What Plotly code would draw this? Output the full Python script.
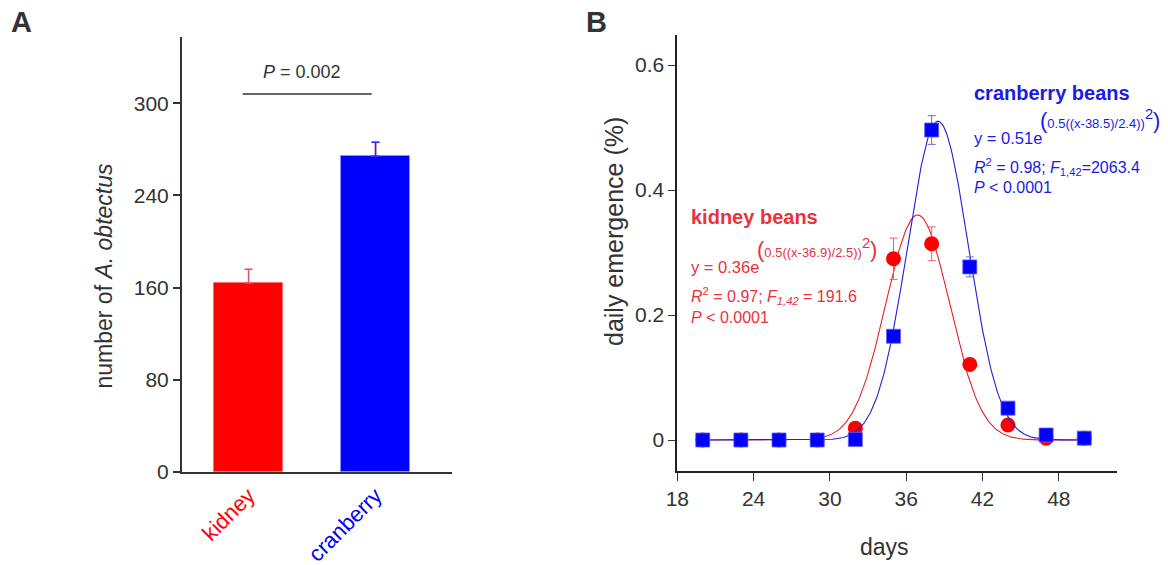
import numpy as np
import plotly.graph_objects as go

# ---------------- data ----------------
# Panel A: adult counts per host bean
bean_types = ["kidney", "cranberry"]
adult_counts = [164, 274]
adult_sem = [12, 12]
count_tick_vals = [0, 80, 160, 240, 320]
count_tick_text = ["0", "80", "160", "240", "300"]
p_value_text = "<i>P</i> = 0.002"
p_bar_level = 328

# Panel B: daily emergence
days = [20, 23, 26, 29, 32, 35, 38, 41, 44, 47, 50]
kidney_emergence = [0.0, 0.0, 0.0, 0.0, 0.019, 0.290, 0.314, 0.121, 0.024, 0.003, 0.003]
kidney_err = [0, 0, 0, 0, 0, 0.033, 0.027, 0, 0, 0, 0]
cranberry_emergence = [0.0, 0.0, 0.0, 0.0, 0.001, 0.166, 0.496, 0.277, 0.051, 0.008, 0.003]
cranberry_err = [0, 0, 0, 0, 0, 0, 0.023, 0.016, 0, 0, 0]

# Gaussian fit parameters (amplitude, centre, width)
kidney_fit = (0.36, 36.9, 2.5)
cranberry_fit = (0.51, 38.5, 2.4)
emergence_tick_vals = [0, 0.2, 0.4, 0.6]
emergence_tick_text = ["0", "0.2", "0.4", "0.6"]
day_tick_vals = [18, 24, 30, 36, 42, 48]

# ---------------- styling ----------------
W, H = 1168, 565
FONT = "Liberation Sans, Arial, sans-serif"
AX = "#333333"
RED = "#ff0000"
BLUE = "#0000ff"
RED_TXT = "#e8323c"
BLUE_TXT = "#1a1ae6"


def px(x):
    return x / W


def py(y):
    return 1 - y / H


fig = go.Figure()

# ---------- Panel A: bars ----------
fig.add_trace(go.Bar(
    x=[0, 1], y=adult_counts, width=0.55,
    marker=dict(color=[RED, BLUE], line=dict(color=["#ff7070", "#8f8fff"], width=1)),
    error_y=dict(type="data", array=adult_sem, arrayminus=[0, 0], symmetric=False,
                 color="#e8505a", thickness=1.5, width=4),
    xaxis="x", yaxis="y", showlegend=False,
))
# separate error colour for the blue bar
fig.add_trace(go.Scatter(
    x=[1], y=[adult_counts[1]], mode="markers", marker=dict(size=0.1, color=BLUE, opacity=0),
    error_y=dict(type="data", array=[adult_sem[1]], arrayminus=[0], symmetric=False,
                 color="#2a2aff", thickness=1.5, width=4),
    xaxis="x", yaxis="y", showlegend=False, hoverinfo="skip",
))
# significance bar
fig.add_trace(go.Scatter(
    x=[-0.046, 0.97], y=[p_bar_level, p_bar_level], mode="lines",
    line=dict(color=AX, width=1.5), xaxis="x", yaxis="y", showlegend=False,
))

# ---------- Panel B: fits and points ----------
xfit = np.linspace(days[0], days[-1], 400)


def gauss(x, p):
    a, mu, s = p
    return a * np.exp(-0.5 * ((x - mu) / s) ** 2)


fig.add_trace(go.Scatter(
    x=xfit, y=gauss(xfit, kidney_fit), mode="lines",
    line=dict(color="#e8202a", width=1.1), xaxis="x2", yaxis="y2", showlegend=False,
))
fig.add_trace(go.Scatter(
    x=days, y=kidney_emergence, mode="markers",
    marker=dict(symbol="circle", size=15, color=RED, line=dict(width=0)),
    error_y=dict(type="data", array=kidney_err, color="#e86068", thickness=1, width=4),
    xaxis="x2", yaxis="y2", showlegend=False,
))
fig.add_trace(go.Scatter(
    x=xfit, y=gauss(xfit, cranberry_fit), mode="lines",
    line=dict(color="#2020d8", width=1.1), xaxis="x2", yaxis="y2", showlegend=False,
))
fig.add_trace(go.Scatter(
    x=days, y=cranberry_emergence, mode="markers",
    marker=dict(symbol="square", size=14, color=BLUE, line=dict(color="#6060ff", width=0.8)),
    error_y=dict(type="data", array=cranberry_err, color="#6a6af0", thickness=1, width=4),
    xaxis="x2", yaxis="y2", showlegend=False,
))

tickfont = dict(family=FONT, size=21, color=AX)

fig.update_layout(
    width=W, height=H,
    margin=dict(l=0, r=0, t=0, b=0, pad=0),
    paper_bgcolor="white", plot_bgcolor="white",
    font=dict(family=FONT, color=AX),
    bargap=0,
    xaxis=dict(
        domain=[px(182), px(452)], range=[-0.524, 1.602],
        tickvals=[0, 1], ticktext=[f"<span style='color:{RED}'>{bean_types[0]}</span>",
                                   f"<span style='color:{BLUE}'>{bean_types[1]}</span>"],
        tickangle=-45, ticks="", tickfont=dict(family=FONT, size=22),
        showline=True, linecolor=AX, linewidth=2, showgrid=False, zeroline=False,
        anchor="y", automargin=False,
    ),
    yaxis=dict(
        domain=[py(472), py(37)], range=[0, 377.4],
        tickvals=count_tick_vals, ticktext=count_tick_text,
        ticks="outside", ticklen=7, tickwidth=2, tickcolor=AX, tickfont=tickfont,
        showline=True, linecolor=AX, linewidth=2, showgrid=False, zeroline=False,
        anchor="x", automargin=False,
    ),
    xaxis2=dict(
        domain=[px(677.3), px(1116.7)], range=[18, 52.55],
        tickvals=day_tick_vals, ticks="outside", ticklen=8, tickwidth=1.2, tickcolor=AX,
        tickfont=tickfont, showline=True, linecolor="#222222", linewidth=1.8,
        showgrid=False, zeroline=False, anchor="y2", automargin=False,
    ),
    yaxis2=dict(
        domain=[py(470.7), py(35)], range=[-0.0491, 0.648],
        tickvals=emergence_tick_vals, ticktext=emergence_tick_text,
        ticks="outside", ticklen=7, tickwidth=1.2, tickcolor=AX, tickfont=tickfont,
        showline=True, linecolor="#222222", linewidth=1.8,
        showgrid=False, zeroline=False, anchor="x2", automargin=False,
    ),
)


def note(text, x, y, size, color=AX, xanchor="left", angle=0, yanchor="middle"):
    fig.add_annotation(text=text, x=px(x), y=py(y), xref="paper", yref="paper",
                       xanchor=xanchor, yanchor=yanchor, showarrow=False, textangle=angle,
                       borderpad=0, font=dict(family=FONT, size=size, color=color))


def exponent(body):
    # big brackets, small body, raised square sized from the 21px base font
    return ("<span style='font-size:22px'>(</span>"
            f"<span style='font-size:13px'>{body}</span>"
            "<sup>2</sup>"
            "<span style='font-size:22px'>)</span>")


# panel letters
note("<b>A</b>", 21, 22, 29, "#333333", xanchor="center")
note("<b>B</b>", 596, 22, 29, "#333333", xanchor="center")

# panel A texts
note(p_value_text, 302, 72.5, 18, AX, xanchor="center")
note("number of <i>A. obtectus</i>", 103, 275.5, 23, AX, xanchor="center", angle=-90)

# panel B axis titles
note("daily emergence (%)", 614, 232, 25, AX, xanchor="center", angle=-90)
note("days", 884, 547, 23, AX, xanchor="center")

# kidney fit annotation
note("<b>kidney beans</b>", 690, 217, 20, RED_TXT)
note("y = 0.36e", 690, 267, 16.5, RED_TXT)
note(exponent("0.5((x-36.9)/2.5))"), 756, 248, 21, RED_TXT)
note("<i>R</i><sup>2</sup> = 0.97; <i>F</i><sub><i>1,42</i></sub> = 191.6", 690, 296, 16, RED_TXT)
note("<i>P</i> &lt; 0.0001", 690, 317, 16, RED_TXT)

# cranberry fit annotation
note("<b>cranberry beans</b>", 973, 93, 20, BLUE_TXT)
note("y = 0.51e", 973, 138, 16.5, BLUE_TXT)
note(exponent("0.5((x-38.5)/2.4))"), 1039, 119, 21, BLUE_TXT)
note("<i>R</i><sup>2</sup> = 0.98; <i>F</i><sub>1,42</sub>=2063.4", 973, 167, 16, BLUE_TXT)
note("<i>P</i> &lt; 0.0001", 973, 188, 16, BLUE_TXT)

fig.write_html("out.html")
